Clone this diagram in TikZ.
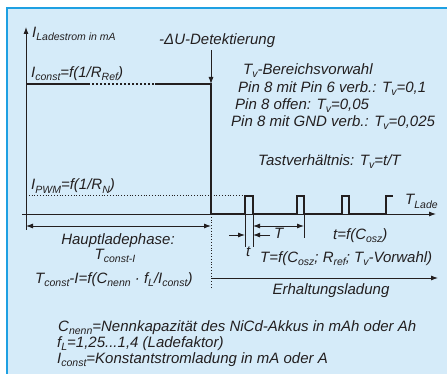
\documentclass[tikz,border=0pt]{standalone}
\usepackage{fontspec}
\setmainfont{Liberation Sans}
\usetikzlibrary{arrows.meta}
\definecolor{bg}{RGB}{213,235,249}
\definecolor{frame}{RGB}{30,160,226}
\definecolor{ink}{RGB}{35,31,32}
\newcommand\sbs[1]{\raisebox{-0.2em}{\fontsize{10.5}{12}\selectfont #1}}
\begin{document}
\begin{tikzpicture}[x=1pt,y=-1pt,
  txt/.style={font=\fontsize{15}{17}\selectfont\itshape, text=ink, inner sep=0pt, anchor=base west},
  ctxt/.style={txt, anchor=base},
  thin line/.style={draw=ink, line width=0.9pt},
  sig/.style={draw=ink, line width=1.6pt},
  dots/.style={draw=ink, line width=0.8pt, dotted},
  arr/.style={-{Latex[length=7pt,width=5pt]}},
  darr/.style={{Latex[length=7pt,width=5pt]}-{Latex[length=7pt,width=5pt]}}]
\useasboundingbox (0,0) rectangle (447,374);
\fill[bg] (7,8) rectangle (447,374);
\draw[frame, line width=1.4pt] (7,374) -- (7,8) -- (447,8);

% coordinates
\coordinate (yb) at (26,230);
\coordinate (yt) at (26,27);
\coordinate (xl) at (22,214);
\coordinate (xr) at (436,214);
\coordinate (c0) at (26,84);
\coordinate (c1) at (88,84);
\coordinate (c2) at (155,84);
\coordinate (drop) at (211,84);
\coordinate (foot) at (211,214);
\coordinate (du) at (211,50);
\coordinate (pw0) at (26,195);
\coordinate (pw1) at (245,195);
\coordinate (vd) at (211,287);
\coordinate (h0) at (26,226);
\coordinate (h1) at (211,226);
\coordinate (e0) at (211,278);
\coordinate (e1) at (438,278);

% axes
\draw[thin line, arr] (yb) -- (yt);
\draw[thin line, arr] (xl) -- (xr);

% signal
\draw[sig] (c0) -- (c1);
\draw[draw=ink, line width=1.6pt, dash pattern=on 1.6pt off 2.4pt] (c1) -- (c2);
\draw[sig, line join=miter] (c2) -- (drop) -- (foot) -- (245,214) -- (245,196) -- (253,196) -- (253,214)
  -- (297,214) -- (297,196) -- (304,196) -- (304,214)
  -- (342,214) -- (342,196) -- (349,196) -- (349,214)
  -- (386,214) -- (386,196) -- (393,196);

\draw[thin line, arr] (du) -- (drop);
\draw[dots] (pw0) -- (pw1);
\draw[dots] (foot) -- (vd);
\draw[thin line, darr] (h0) -- (h1);
\draw[thin line, arr] (e0) -- (e1);

% t and T dimensioning
\draw[thin line] (245,214) -- (245,247);
\draw[thin line] (253,214) -- (253,247);
\draw[thin line] (304,214) -- (304,238);
\draw[thin line, arr] (229,235) -- (245,235);
\draw[thin line, arr] (270,235) -- (253,235);
\draw[thin line, darr] (253,226) -- (304,226);

% texts
\node[txt] (ylab) at (32,38) {I\sbs{Ladestrom in mA}};
\node[txt] (dulab) at (159,45) {-ΔU-Detektierung};
\node[txt] (iconst) at (31,78) {I\sbs{const}=f(1/R\sbs{Ref})};
\node[txt] (ipwm) at (31,190) {I\sbs{PWM}=f(1/R\sbs{N})};
\node[txt] (tv1) at (243,75) {T\sbs{v}-Bereichsvorwahl};
\node[txt] (tv2) at (238,93) {Pin 8 mit Pin 6 verb.: T\sbs{v}=0,1};
\node[txt] (tv3) at (235,110) {Pin 8 offen: T\sbs{v}=0,05};
\node[txt] (tv4) at (231,127) {Pin 8 mit GND verb.: T\sbs{v}=0,025};
\node[txt] (tast) at (258,166) {Tastverhältnis: T\sbs{v}=t/T};
\node[txt] (tlade) at (405,205) {T\sbs{Lade}};
\node[ctxt] (haupt) at (118,244) {Hauptladephase:};
\node[ctxt] (tci) at (115,259) {T\sbs{const-I}};
\node[txt] (tcif) at (35,283) {T\sbs{const}-I=f(C\sbs{nenn} · f\sbs{L}/I\sbs{const})};
\node[ctxt] (erh) at (331,294) {Erhaltungsladung};
\node[txt] (tsm) at (246,256) {t};
\node[txt] (Tbig) at (274,239) {T};
\node[txt] (tf) at (333,240) {t=f(C\sbs{osz})};
\node[txt] (Tf) at (260,262) {T=f(C\sbs{osz}; R\sbs{ref}; T\sbs{v}-Vorwahl)};
\node[txt] (n1) at (58,331) {C\sbs{nenn}=Nennkapazität des NiCd-Akkus in mAh oder Ah};
\node[txt] (n2) at (57,347) {f\sbs{L}=1,25...1,4 (Ladefaktor)};
\node[txt] (n3) at (57,363) {I\sbs{const}=Konstantstromladung in mA oder A};
\end{tikzpicture}
\end{document}
